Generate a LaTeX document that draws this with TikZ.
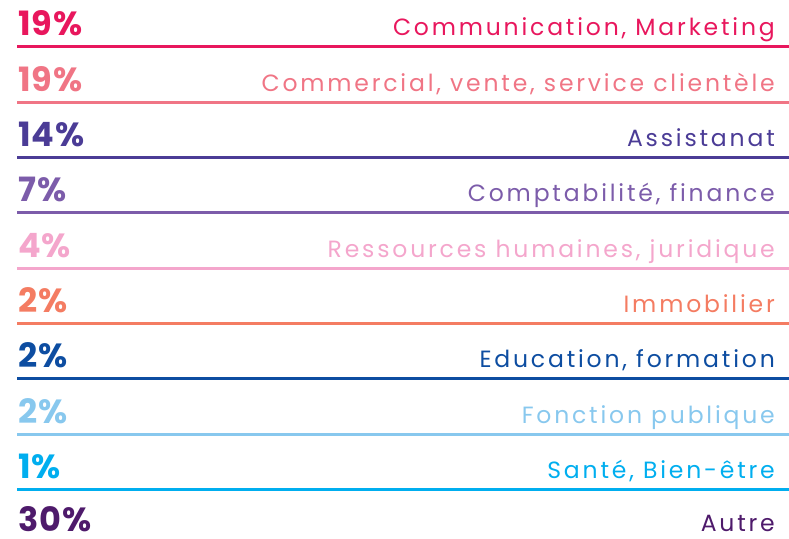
\documentclass[tikz,border=0pt]{standalone}
\usepackage{fontspec}
\setmainfont{Poppins}
\definecolor{c1}{RGB}{232,23,93}
\definecolor{c2}{RGB}{240,117,133}
\definecolor{c3}{RGB}{75,60,150}
\definecolor{c4}{RGB}{124,92,170}
\definecolor{c5}{RGB}{244,166,204}
\definecolor{c6}{RGB}{244,124,98}
\definecolor{c7}{RGB}{13,77,161}
\definecolor{c8}{RGB}{136,200,238}
\definecolor{c9}{RGB}{0,174,239}
\definecolor{c10}{RGB}{78,26,107}
\tikzset{
  pct/.style={anchor=base west, inner sep=0pt, text depth=0pt, font=\fontsize{33.5}{34}\selectfont\bfseries\addfontfeatures{LetterSpace=3}},
  lbl/.style={anchor=base east, inner sep=0pt, text depth=0pt, font=\fontsize{23.5}{24}\selectfont\addfontfeatures{LetterSpace=12}},
  rule/.style={line width=3pt}
}
\begin{document}
\begin{tikzpicture}[x=1pt,y=1pt]
\useasboundingbox (0,0) rectangle (789,538);
\foreach \i/\p/\t in {1/19\%/{Communication, Marketing},
  2/19\%/{Commercial, vente, service clientèle},
  3/14\%/{Assistanat},
  4/7\%/{Comptabilité, finance},
  5/4\%/{Ressources humaines, juridique},
  6/2\%/{Immobilier},
  7/2\%/{Education, formation},
  8/2\%/{Fonction publique},
  9/1\%/{Santé, Bien-être},
  10/30\%/{Autre}}{
  \pgfmathsetmacro{\ly}{538-(47+55.3*(\i-1))}
  \pgfmathsetmacro{\by}{\ly+11+(\i==10)*2}
  \node[pct, text=c\i] (p\i) at (18,\by) {\p};
  \node[lbl, text=c\i] (l\i) at (775,\by) {\t};
  \ifnum\i<10
    \coordinate (a\i) at (17,\ly);
    \coordinate (b\i) at (789,\ly);
    \draw[rule, c\i] (a\i) -- (b\i);
  \fi
}
\end{tikzpicture}
\end{document}
